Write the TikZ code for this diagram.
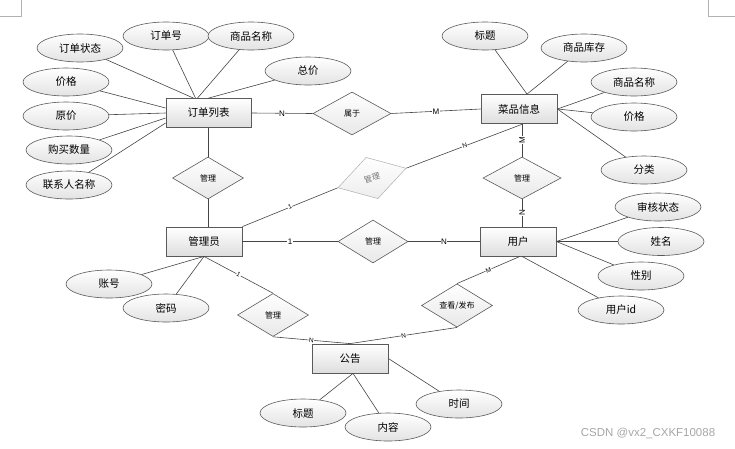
\documentclass[tikz,border=0pt]{standalone}
\usepackage{fontspec}
\newfontfamily\cjk{Noto Sans CJK SC}
\newfontfamily\lat{Liberation Sans}
\usetikzlibrary{shapes.geometric}
\definecolor{edge}{HTML}{5A5A5A}
\definecolor{wire}{HTML}{444444}
\tikzset{
  entity/.style={draw=edge, line width=0.8pt, top color=white, bottom color=black!13,
    minimum width=76pt, minimum height=29pt, inner sep=0pt, font=\cjk\fontsize{10.5}{12}\selectfont},
  attr/.style={ellipse, draw=edge, line width=0.6pt, top color=white, bottom color=black!11,
    minimum width=86pt, minimum height=28pt, inner sep=0pt, font=\cjk\fontsize{10.5}{12}\selectfont},
  rel/.style={diamond, draw=edge, line width=0.6pt, top color=white, bottom color=black!9,
    minimum width=71pt, minimum height=43pt, inner sep=0pt, font=\cjk\fontsize{8}{9}\selectfont},
  card/.style={fill=white, inner sep=0.5pt, font=\lat\fontsize{8}{9}\selectfont},
  tiny/.style={card, font=\lat\fontsize{6.5}{7}\selectfont},
  link/.style={draw=wire, line width=0.6pt}
}
\begin{document}
\begin{tikzpicture}[x=1pt,y=-1pt]
    \useasboundingbox (0,0) rectangle (735,448);
    \draw[black!30] (21,0) -- (21,16) -- (0,16);
    \draw[black!30] (708,0) -- (708,16) -- (735,16);

    \node[entity, minimum width=85pt] (ddlb) at (208.5,113) {订单列表};
    \node[entity] (cpxx) at (519,109) {菜品信息};
    \node[entity] (gly) at (204,241.5) {管理员};
    \node[entity] (yh) at (518,241.5) {用户};
    \node[entity] (gg) at (350,358.5) {公告};

    \node[attr] (ddzt) at (80,48) {订单状态};
    \node[attr] (ddh) at (166,36) {订单号};
    \node[attr] (spmc) at (251,36) {商品名称};
    \node[attr] (zj) at (308,71) {总价};
    \node[attr] (jg) at (66,82) {价格};
    \node[attr] (yj) at (66,116) {原价};
    \node[attr] (gmsl) at (69,150) {购买数量};
    \node[attr] (lxr) at (69,185) {联系人名称};

    \node[attr] (cpbt) at (485,36) {标题};
    \node[attr] (spkc) at (584,48) {商品库存};
    \node[attr] (cpmc) at (634,82) {商品名称};
    \node[attr] (cpjg) at (634,117) {价格};
    \node[attr] (fl) at (644,170) {分类};

    \node[attr] (shzt) at (658,207) {审核状态};
    \node[attr] (xm) at (661,241.5) {姓名};
    \node[attr] (xb) at (641,276) {性别};
    \node[attr] (yhid) at (621,310) {用户id};

    \node[attr] (zh) at (109,284) {账号};
    \node[attr] (mm) at (166,308) {密码};

    \node[attr] (ggbt) at (303,413) {标题};
    \node[attr] (nr) at (388,427) {内容};
    \node[attr] (sj) at (459,404) {时间};

    \node[rel, minimum width=78pt] (sy) at (352,113.5) {属于};
    \node[rel, minimum height=42pt] (gla) at (208,178) {管理};
    \node[rel, rotate=16, draw=black!28, bottom color=black!7, text=black!55] (glb) at (372,178) {管理};
    \node[rel, minimum width=78pt, minimum height=42pt] (glc) at (522,178) {管理};
    \node[rel, minimum width=70pt] (gld) at (373,241.5) {管理};
    \node[rel] (gle) at (273,315) {管理};
    \node[rel] (ckfb) at (457,305.5) {查看/发布};

    \draw[link] ([xshift=-15pt]ddlb.north) -- (ddzt);
    \draw[link] ([xshift=-13pt]ddlb.north) -- (ddh);
    \draw[link] ([xshift=-11pt]ddlb.north) -- (spmc);
    \draw[link] (ddlb.north) -- (zj);
    \draw[link] ([yshift=5pt]ddlb.west) -- (jg);
    \draw[link] (ddlb.west) -- (yj);
    \draw[link] ([yshift=-5pt]ddlb.west) -- (gmsl);
    \draw[link] ([yshift=-10pt]ddlb.west) -- (lxr);

    \draw[link] ([xshift=8pt]cpxx.north) -- (cpbt);
    \draw[link] ([xshift=8pt]cpxx.north) -- (spkc);
    \draw[link] (cpxx.east) -- (cpmc);
    \draw[link] (cpxx.east) -- (cpjg);
    \draw[link] (cpxx.east) -- (fl);

    \draw[link] (yh.east) -- (shzt);
    \draw[link] (yh.east) -- (xm);
    \draw[link] (yh.east) -- (xb);
    \draw[link] ([xshift=4pt]yh.south) -- (yhid);

    \draw[link] (gly.south) -- (zh);
    \draw[link] (gly.south) -- (mm);

    \draw[link] ([xshift=3pt]gg.south) -- (ggbt);
    \draw[link] ([xshift=3pt]gg.south) -- (nr);
    \draw[link] (gg.east) -- (sj);

    \draw[link] (ddlb.east) -- node[card] {N} (sy.west);
    \draw[link] (sy.east) -- node[card] {M} (cpxx.west);
    \draw[link] (ddlb.south -| gla.north) -- (gla.north);
    \draw[link] (gla.south) -- (gla.south |- gly.north);
    \draw[link] (gly.north east) -- node[tiny, sloped] {1} (glb.west);
    \draw[link] (glb.east) -- node[tiny, sloped] {N} ([xshift=4pt]cpxx.south);
    \draw[link] (glc.north |- cpxx.south) -- node[card, rotate=90] {M} (glc.north);
    \draw[link] (glc.south) -- node[card, rotate=90] {N} (glc.south |- yh.north);
    \draw[link] (gly.east) -- node[card] {1} (gld.west);
    \draw[link] (gld.east) -- node[card] {N} (yh.west);
    \draw[link] ([xshift=2pt]yh.south) -- node[tiny, sloped] {M} (ckfb.north);
    \draw[link] (ckfb.south) -- node[tiny, sloped] {N} (gg.north);
    \draw[link] (gly.south) -- node[tiny, sloped] {1} (gle.north);
    \draw[link] (gle.south) -- node[tiny, sloped] {N} (gg.north);

    \node[text=black!35, font=\lat\fontsize{11.5}{13}\selectfont] (wm) at (648,433) {CSDN @vx2\_CXKF10088};
\end{tikzpicture}
\end{document}
